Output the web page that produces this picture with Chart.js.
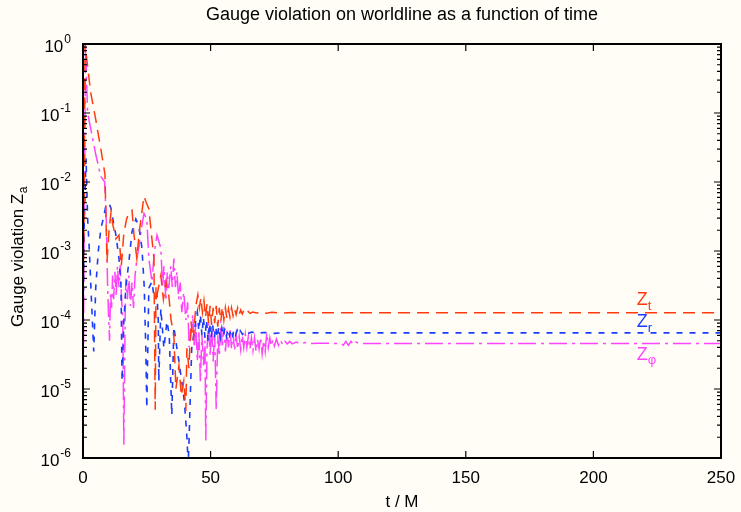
<!DOCTYPE html>
<html>
<head>
<meta charset="utf-8">
<script src="https://cdn.jsdelivr.net/npm/chart.js@4.4.1/dist/chart.umd.min.js"></script>
<style>
    html, body { margin: 0; padding: 0; background: #fffdf5; }
    #wrap { width: 741px; height: 512px; }
</style>
</head>
<body>
<div id="wrap"><canvas id="myChart" width="741" height="512"></canvas></div>
<script>
// Z_t (red, long dashes)
const tZt = [0, 0.4, 0.8, 1.6, 3, 5, 7, 8.6, 9.4, 10.2,
    11.0, 11.6, 12.9, 14.1, 15.0, 16.0, 17.0, 18.0, 19.2, 20.0,
    21.1, 22.0, 22.7, 23.9, 24.8, 25.8, 27.0, 27.8, 28.3, 28.6,
    29.0, 30.5, 31.5, 32.5, 33.6, 34.5, 35.6, 36.4, 37.6, 38.5,
    39.5, 40.3, 40.7, 41.5, 42.3, 43.2, 44.2, 45.0, 45.6, 46.2,
    46.8, 47.4, 48.0, 48.6, 49.2, 49.8, 50.4, 51.0, 51.6, 52.2,
    52.8, 53.4, 54.0, 54.6, 55.2, 55.8, 56.4, 57.0, 57.6, 58.2,
    58.8, 59.4, 60.0, 60.6, 61.2, 61.8, 62.4, 63.0, 63.6, 64.5,
    65.5, 66.5, 68, 70, 72, 74, 78, 82, 90, 250];
const zt = [2e-4, 3e-3, 1.0, 0.55, 0.2, 0.08, 0.03, 0.013, 7e-4, 2e-3,
    3.7e-3, 2.5e-3, 1.5e-3, 1.7e-3, 6e-4, 1.8e-3, 2.8e-3, 3.7e-3, 3.9e-3, 1.7e-3,
    7.8e-4, 1.8e-3, 2.9e-3, 6.2e-3, 5e-3, 4.1e-3, 1.5e-3, 7.8e-4, 5e-6, 3e-4,
    2.3e-4, 4.4e-4, 2e-4, 3.6e-4, 2.3e-4, 1.0e-4, 6e-5, 1.0e-5, 2.2e-5, 8e-6,
    1.3e-5, 4.8e-6, 3.9e-5, 2e-5, 9.6e-5, 5e-5, 1.6e-4, 2.3e-4, 1.5e-4, 2.1e-4,
    1.3e-4, 1.9e-4, 1.1e-4, 1.7e-4, 9e-5, 1.6e-4, 8.5e-5, 1.5e-4, 9e-5, 1.6e-4,
    8e-5, 1.5e-4, 9.5e-5, 1.55e-4, 1.0e-4, 1.5e-4, 1.05e-4, 1.45e-4, 1.1e-4, 1.5e-4,
    1.15e-4, 1.45e-4, 1.2e-4, 1.5e-4, 1.2e-4, 1.4e-4, 1.22e-4, 1.38e-4, 1.25e-4, 1.35e-4,
    1.25e-4, 1.3e-4, 1.26e-4, 1.3e-4, 1.25e-4, 1.29e-4, 1.26e-4, 1.28e-4, 1.27e-4, 1.27e-4];

// Z_r (blue, short dashes)
const tZr = [0, 0.4, 1.2, 1.8, 2.5, 3.3, 4.2, 5.0, 6.0, 7.0,
    8.0, 9.0, 10.2, 11.0, 12.0, 12.9, 14.1, 14.9, 15.3, 16.0,
    16.8, 18.0, 19.2, 20.7, 21.9, 23.1, 24.0, 24.6, 25.0, 25.8,
    27.0, 28.0, 29.0, 29.5, 29.7, 30.5, 31.7, 32.9, 33.8, 34.8,
    35.6, 36.4, 37.6, 38.7, 39.7, 40.7, 41.2, 41.5, 42.6, 44.2,
    44.8, 45.4, 46.0, 46.6, 47.2, 47.8, 48.4, 49.0, 49.6, 50.2,
    50.8, 51.4, 52.0, 52.6, 53.2, 53.8, 54.4, 55.0, 55.6, 56.2,
    56.8, 57.4, 58.0, 58.6, 59.2, 59.8, 60.4, 61.0, 61.6, 62.5,
    63.5, 64.5, 66, 68, 71, 75, 80, 85, 250];
const zr = [1e-4, 2e-3, 0.022, 3e-3, 1e-3, 2e-4, 3.5e-5, 3e-4, 1e-3, 2.1e-3,
    3e-3, 4.6e-3, 4.9e-3, 4.1e-3, 2.5e-3, 1.7e-3, 7.8e-4, 3e-4, 1.3e-5, 9.6e-5,
    3e-4, 7.1e-4, 1.9e-3, 2.9e-3, 2.3e-3, 1.1e-3, 3e-4, 3.9e-5, 5.3e-6, 2.9e-4,
    3.6e-4, 2e-4, 2.3e-4, 9.6e-5, 1.3e-5, 1.47e-4, 3.9e-5, 9.6e-5, 6e-5, 4.2e-6,
    8e-5, 4.9e-5, 2.5e-5, 1.3e-5, 6.7e-6, 2.1e-6, 8e-7, 1.55e-6, 3.9e-5, 9.6e-5,
    1.3e-4, 7e-5, 1.2e-4, 6e-5, 1.1e-4, 5.5e-5, 1.0e-4, 5e-5, 9e-5, 5.5e-5,
    8.5e-5, 5.5e-5, 8e-5, 5.5e-5, 8e-5, 5.5e-5, 7.6e-5, 5.8e-5, 7.6e-5, 5.8e-5,
    7.4e-5, 6e-5, 7.4e-5, 6e-5, 7.2e-5, 6.1e-5, 7.1e-5, 6.2e-5, 7e-5, 6.2e-5,
    6.9e-5, 6.3e-5, 6.7e-5, 6.4e-5, 6.6e-5, 6.4e-5, 6.6e-5, 6.5e-5, 6.5e-5];

// Z_phi (magenta, dash-dot)
const tZp = [0, 0.4, 1.0, 1.4, 1.8, 3, 5, 7, 8.5, 9.2,
    9.6, 10.0, 10.4, 10.8, 11.2, 11.6, 12.0, 12.5, 13.0, 13.5,
    14.1, 14.6, 15.0, 15.6, 16.0, 16.5, 16.8, 17.4, 18.0, 18.6,
    19.2, 19.8, 20.4, 21.1, 22.0, 22.7, 23.9, 25.0, 25.8, 27.0,
    28.0, 29.0, 30.5, 31.2, 31.7, 32.5, 33.0, 33.6, 34.4, 35.0,
    35.6, 36.2, 36.8, 37.5, 38.1, 38.7, 39.5, 40.3, 41.0, 41.6,
    42.3, 43.0, 43.6, 44.2, 44.8, 45.4, 46.0, 46.6, 47.2, 47.8,
    48.1, 48.6, 49.2, 49.8, 50.4, 51.0, 51.6, 52.2, 52.8, 53.4,
    54.0, 54.6, 55.2, 55.8, 56.4, 57.0, 57.6, 58.2, 58.8, 59.4,
    60.0, 60.6, 61.2, 61.8, 62.4, 63.0, 63.6, 64.2, 64.8, 65.4,
    66.0, 66.6, 67.2, 67.8, 68.4, 69.0, 69.6, 70.2, 70.8, 71.4,
    72.0, 72.6, 73.2, 73.8, 74.4, 75.0, 75.8, 76.6, 77.4, 78.2,
    79.0, 80, 81, 82, 83.5, 85, 87, 89, 92, 101,
    102, 103, 104, 105, 106, 107, 108, 250];
const zp = [2e-6, 1e-3, 1.0, 0.3, 0.1, 0.06, 0.025, 0.012, 0.01, 2.3e-3,
    3.6e-4, 1.2e-4, 5e-5, 2.5e-4, 1.5e-4, 4.4e-4, 2e-4, 5e-4, 2.2e-4, 6e-4,
    3e-4, 6.2e-4, 2.5e-4, 1e-4, 1.55e-6, 1e-4, 4e-4, 2e-4, 4.4e-4, 1.6e-4,
    3.5e-4, 1.5e-4, 4.4e-4, 7.8e-4, 1.2e-3, 1.9e-3, 3.5e-3, 2.9e-3, 7.8e-4, 3.6e-4,
    1.0e-3, 1.7e-3, 1.1e-3, 3e-4, 6e-4, 1.9e-4, 5e-4, 2.9e-4, 6e-4, 3e-4,
    7.8e-4, 3e-4, 5e-4, 2e-4, 3.5e-4, 1.3e-4, 2.5e-4, 1.0e-4, 1.8e-4, 4e-5,
    6e-5, 1.2e-4, 4e-5, 9e-5, 2.5e-5, 7e-5, 1.3e-5, 6e-5, 2.2e-5, 5e-5,
    1.8e-6, 4e-5, 9e-5, 3e-5, 8.4e-5, 2.5e-5, 7e-5, 5e-6, 6e-5, 3e-5,
    9.6e-5, 4e-5, 8e-5, 3.5e-5, 7e-5, 4e-5, 7.5e-5, 3.8e-5, 6.5e-5, 3.6e-5,
    6e-5, 3.8e-5, 5.8e-5, 3.7e-5, 6e-5, 4e-5, 6.2e-5, 4e-5, 5.8e-5, 3.8e-5,
    5.5e-5, 3.6e-5, 5.5e-5, 3.5e-5, 5.2e-5, 3.8e-5, 5.6e-5, 3.2e-5, 5e-5, 3.5e-5,
    6.5e-5, 4e-5, 5.5e-5, 4.2e-5, 5.2e-5, 4.2e-5, 5.3e-5, 4.3e-5, 5.1e-5, 4.4e-5,
    5e-5, 4.5e-5, 4.9e-5, 4.5e-5, 4.8e-5, 4.55e-5, 4.7e-5, 4.55e-5, 4.6e-5, 4.57e-5,
    4.3e-5, 4.9e-5, 4.3e-5, 4.9e-5, 4.4e-5, 4.8e-5, 4.57e-5, 4.57e-5];

const xTicks = [0, 50, 100, 150, 200, 250];
const yExponents = [-6, -5, -4, -3, -2, -1, 0];

const RED = '#ff3a10';
const BLUE = '#1a3cff';
const MAGENTA = '#ff44ff';
const FONT = '"Liberation Sans", Arial, Helvetica, sans-serif';

function pts(t, v) {
    return t.map((x, i) => ({x: x, y: v[i]}));
}

// frame, inward ticks, labels and curve names (gnuplot look)
const gnuplotFrame = {
    id: 'gnuplotFrame',
    beforeDraw(chart) {
        const ctx = chart.ctx;
        ctx.save();
        ctx.fillStyle = '#fffdf5';
        ctx.fillRect(0, 0, chart.width, chart.height);
        ctx.restore();
    },
    afterDraw(chart) {
        const ctx = chart.ctx;
        const a = chart.chartArea;
        const xs = chart.scales.x;
        const ys = chart.scales.y;
        ctx.save();
        ctx.strokeStyle = '#000';
        ctx.fillStyle = '#000';
        ctx.lineWidth = 1.2;

        ctx.beginPath();
        xTicks.forEach(v => {
            const px = xs.getPixelForValue(v);
            ctx.moveTo(px, a.bottom); ctx.lineTo(px, a.bottom - 7);
            ctx.moveTo(px, a.top); ctx.lineTo(px, a.top + 7);
        });
        yExponents.forEach(e => {
            const py = ys.getPixelForValue(Math.pow(10, e));
            ctx.moveTo(a.left, py); ctx.lineTo(a.left + 7, py);
            ctx.moveTo(a.right, py); ctx.lineTo(a.right - 7, py);
            if (e < 0) {
                for (let k = 2; k <= 9; k++) {
                    const pm = ys.getPixelForValue(k * Math.pow(10, e));
                    ctx.moveTo(a.left, pm); ctx.lineTo(a.left + 4, pm);
                    ctx.moveTo(a.right, pm); ctx.lineTo(a.right - 4, pm);
                }
            }
        });
        ctx.stroke();

        ctx.lineWidth = 2;
        ctx.strokeRect(a.left, a.top, a.right - a.left, a.bottom - a.top);

        // title
        ctx.font = '18px ' + FONT;
        ctx.textAlign = 'center';
        ctx.textBaseline = 'alphabetic';
        ctx.fillText('Gauge violation on worldline as a function of time', (a.left + a.right) / 2, 20);

        // x tick labels and title
        ctx.font = '17px ' + FONT;
        xTicks.forEach(v => {
            ctx.fillText(String(v), xs.getPixelForValue(v), 483);
        });
        ctx.fillText('t / M', (a.left + a.right) / 2, 507);

        // y tick labels 10^e
        ctx.textAlign = 'left';
        yExponents.forEach(e => {
            const py = ys.getPixelForValue(Math.pow(10, e));
            ctx.font = '17px ' + FONT;
            const wb = ctx.measureText('10').width;
            ctx.font = '12px ' + FONT;
            const we = ctx.measureText(String(e)).width;
            const x0 = 71 - wb - we - 1;
            ctx.font = '17px ' + FONT;
            ctx.fillText('10', x0, py + 8);
            ctx.font = '12px ' + FONT;
            ctx.fillText(String(e), x0 + wb + 1, py - 1);
        });

        // y axis title
        ctx.save();
        ctx.translate(23, 327);
        ctx.rotate(-Math.PI / 2);
        ctx.font = '17px ' + FONT;
        const yt = 'Gauge violation Z';
        ctx.fillText(yt, 0, 0);
        const wy = ctx.measureText(yt).width;
        ctx.font = '12px ' + FONT;
        ctx.fillText('a', wy + 0.5, 4);
        ctx.restore();

        // curve names next to the flat tails
        const names = [
            {main: 'Z', sub: 't', color: RED, value: zt[zt.length - 1], dy: -7.5, sdy: 5},
            {main: 'Z', sub: 'r', color: BLUE, value: zr[zr.length - 1], dy: -5.5, sdy: 5},
            {main: 'Z', sub: '\u03c6', color: MAGENTA, value: zp[zp.length - 1], dy: 17, sdy: 4}
        ];
        const lx = xs.getPixelForValue(217);
        names.forEach(n => {
            const py = ys.getPixelForValue(n.value) + n.dy;
            ctx.fillStyle = n.color;
            ctx.font = '18px ' + FONT;
            ctx.fillText(n.main, lx, py);
            const wz = ctx.measureText(n.main).width;
            ctx.font = '13px ' + FONT;
            ctx.fillText(n.sub, lx + wz, py + n.sdy);
        });
        ctx.restore();
    }
};

const ctx = document.getElementById('myChart');

const myChart = new Chart(ctx, {
    type: 'line',
    data: {
        datasets: [{
            label: 'Z_t',
            data: pts(tZt, zt),
            borderColor: RED,
            borderWidth: 1.5,
            borderDash: [12, 7]
        }, {
            label: 'Z_r',
            data: pts(tZr, zr),
            borderColor: BLUE,
            borderWidth: 1.6,
            borderDash: [6, 7]
        }, {
            label: 'Z_phi',
            data: pts(tZp, zp),
            borderColor: MAGENTA,
            borderWidth: 1.5,
            borderDash: [18, 5, 3, 5]
        }]
    },
    options: {
        responsive: false,
        animation: false,
        devicePixelRatio: 1,
        layout: {
            padding: {left: 83, right: 20, top: 44, bottom: 54}
        },
        elements: {
            point: {radius: 0},
            line: {tension: 0, fill: false}
        },
        plugins: {
            legend: {display: false},
            title: {display: false},
            tooltip: {enabled: false}
        },
        scales: {
            x: {
                type: 'linear',
                min: 0,
                max: 250,
                display: false
            },
            y: {
                type: 'logarithmic',
                min: 1e-6,
                max: 1,
                display: false
            }
        }
    },
    plugins: [gnuplotFrame]
});
</script>
</body>
</html>
